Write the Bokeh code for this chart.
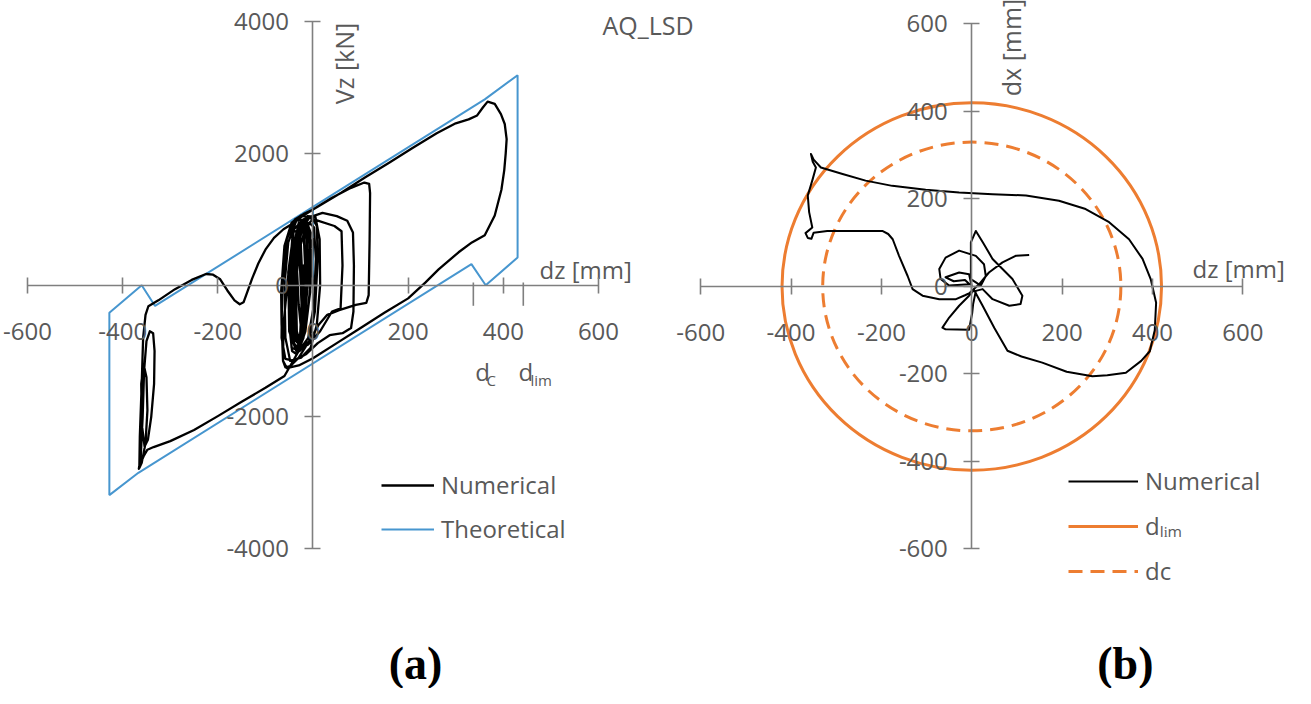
import math
from bokeh.plotting import figure
from bokeh.models import Legend, LegendItem, Range1d, LinearAxis
from bokeh.core.properties import value
from bokeh.embed import file_html
from bokeh.resources import INLINE

# ---------------- data: panel (a) ----------------
ticks_a_x = [-600, -400, -200, 0, 200, 400, 600]
ticks_a_y = [-4000, -2000, 0, 2000, 4000]
d_c_a = 337
d_lim_a = 442

theo_dz = [0, 0, 361, 430, 430, 363, 333, -367, -428, -428, -360, -332, 0]
theo_vz = [0, 1189, 2824, 3190, 420, 0, 320, -2851, -3190, -420, 0, -315, 1189]

num_a_dz = [
    # centre loops
    0, -5, -12, -8, 2, 6, 2, -10, -25, -35, -38, -30, -15, 0, 8, 10, 4, -8, -28, -45,
    -50, -45, -32, -12, 5, 14, 15, 8, -5, -25, -48, -58, -60, -52, -35, -15,
    -5, -8, -18, -30, -40, -42, -35, -22, -12, -15, -22, -32, -38, -36, -28, -18, -10, -14,
    -24, -34, -44, -48, -42, -30, -16, -6, -6, -16, -30,
    # lower branch to the left
    -60, -100, -150, -200, -250, -300, -335, -348, -356, -363, -366,
    # left thin loops
    -362, -358, -355, -350, -343, -336, -333, -334, -340, -347, -354, -360, -361, -356, -350, -348,
    -352, -360, -365, -364, -360, -357, -352, -346,
    # upper-left path
    -325, -290, -255, -225, -210, -195, -180, -165, -154, -146, -138, -128, -115, -100, -82, -62, -40, -20,
    # big right loop
    0, 60, 110, 160, 210, 260, 300, 327, 345, 357, 367, 382, 395, 403, 407, 405, 402, 396, 382, 361,
    334, 306, 264, 236,
    # lower branch back
    200, 150, 100, 50, 0, -30, -55, -63,
    # centre again
    -66, -67, -60, -45, -25, 10, 45, 60, 62, 58, 40, 15, -10, -35, -50, -52, -40, -20,
    20, 50, 72, 84, 86, 85, 80, 62, 35, 10, -15, -40, -58, -66, -65, -55, -38, -20,
    0, 40, 80, 108, 118, 120, 119, 117, 112, 90, 55, 30, 12, -8, -30, -48, -58, -63, -62, -50, -30, -10,
    # dense small cycles at the end
    -20, -28, -36, -34, -26, -18, -16, -20, -30, -40, -44, -40, -30, -20, -22, -26, -32, -38, -40, -36,
    -28, -24, -28, -34, -42, -48, -50, -44, -34, -20, -12, -14, -22, -30, -34, -30, -26, -20, -18,
    0, -5, -15, -25, -22, -10,
]
num_a_vz = [
    0, 500, 850, 950, 880, 400, -300, -800, -950, -800, -200, 500, 900, 1000, 900, 400, -400, -850, -1000, -950,
    -500, 300, 850, 1050, 1040, 700, 0, -600, -950, -1100, -1150, -800, 0, 650, 980, 1000,
    800, 200, -500, -850, -700, 0, 700, 930, 800, 100, -600, -880, -500, 300, 800, 900, 500, -200,
    -750, -950, -850, -200, 600, 920, 980, 700, -100, -700, -1000,
    -1380, -1560, -1770, -1990, -2200, -2370, -2460, -2500, -2600, -2720, -2790,
    -2600, -2000, -1300, -850, -700, -730, -1000, -1500, -2000, -2350, -2450, -2100, -1500, -1200, -1400, -1900,
    -2400, -2700, -2780, -2300, -1500, -800, -450, -320,
    -230, -60, 80, 170, 160, 90, -80, -230, -290, -260, -100, 100, 330, 540, 720, 850, 950, 1060,
    1150, 1410, 1640, 1860, 2090, 2310, 2460, 2520, 2580, 2700, 2790, 2755, 2600, 2450, 2220, 2000, 1750, 1450, 1060, 760,
    650, 500, 240, 40,
    -200, -420, -650, -880, -1110, -1220, -1260, -1150,
    -600, -100, 600, 950, 1060, 980, 900, 820, 300, -350, -400, -700, -900, -1000, -700, 200, 850, 1000,
    1100, 1050, 980, 800, 300, -400, -650, -730, -760, -880, -1050, -1150, -1120, -800, 0, 700, 1000, 1080,
    1150, 1330, 1480, 1560, 1540, 1400, 700, -150, -270, -300, -380, -450, -600, -850, -1100, -1230, -1250, -1150, -600, 300, 850, 1000,
    900, 700, 0, -700, -900, -600, 200, 850, 950, 600, -300, -880, -980, -700, 0, 700, 900, 500, -400, -850,
    -900, -300, 400, 800, 850, 300, -600, -1000, -1050, -800, 0, 750, 980, 860, 300, -300, -600, -300, 300,
    700, 0, -600, -500, 300, 0,
]

# ---------------- data: panel (b) ----------------
ticks_b = [-600, -400, -200, 0, 200, 400, 600]
r_lim = 420
r_c = 330

num_b_dz = [
    0, -6, -28, -58, -40, -15, -5,
    -50, -69, -72, -58, -28, 9, 27, 31, 20,
    -2, -2, 9, 25, 46, 90, 112, 108, 83, 46, 24, 9,
    3, 1, -6, -58, -65, -50, -28, -6, 5,
    24, 50, 79, 110, 156, 210, 267, 300, 341, 375, 394, 405, 408, 396, 378, 348, 304, 252, 193, 120, 46,
    -28, -102, -176, -235, -286, -334, -350, -356, -352, -345, -352, -363, -360, -353, -368, -363, -355, -350,
    -320, -250, -198, -185, -175, -161, -142, -131, -109, -72, -35, -15, -5, 16, 38, 68, 97, 127,
]
num_b_dx = [
    0, 28, 32, 21, 12, 15, 5,
    2, 17, 40, 66, 82, 70, 51, 24, 2,
    17, 101, 127, 100, 63, 17, -21, -40, -44, -29, -6, -10,
    -40, -60, -99, -98, -94, -71, -44, -21, -8,
    -44, -95, -147, -160, -174, -195, -205, -203, -197, -170, -148, -100, -37, 17, 63, 108, 147, 177, 196, 208, 211,
    215, 221, 230, 242, 257, 272, 290, 303, 285, 272, 246, 208, 170, 135, 122, 111, 109, 123,
    127, 127, 127, 120, 108, 70, 24, -6, -21, -29, -29, -20, -15, 5, 32, 55, 70, 72,
]

# ---------------- styles ----------------
GRAY_AXIS = "#7f7f7f"
GRAY_TXT = "#595959"
BLUE = "#4796CF"
ORANGE = "#ED7D31"
FONT = "Open Sans"
FS = "24px"
NAN = float("nan")


def style_axis(ax, tks, bnds, standoff):
    ax.fixed_location = 0
    ax.ticker = tks
    ax.bounds = bnds
    ax.major_label_overrides = {t: str(t) for t in tks}
    ax.axis_line_color = GRAY_AXIS
    ax.axis_line_width = 1.6
    ax.major_tick_line_color = GRAY_AXIS
    ax.major_tick_line_width = 1.6
    ax.major_tick_in = 8
    ax.major_tick_out = 8
    ax.minor_tick_line_color = None
    ax.major_label_text_font = FONT
    ax.major_label_text_font_size = FS
    ax.major_label_text_color = GRAY_TXT
    ax.major_label_standoff = standoff


# one canvas; panel (a) uses the default ranges, panel (b) the extra ranges
p = figure(width=1295, height=688,
           x_range=Range1d(-656.8, 2065.0), y_range=Range1d(-6129.2, 4326.7),
           output_backend="svg", toolbar_location=None, min_border=0,
           background_fill_color="white", border_fill_color="white")
p.extra_x_ranges = {"xb": Range1d(-2149.8, 716.5)}
p.extra_y_ranges = {"yb": Range1d(-918.9, 653.7)}
p.outline_line_color = None
p.grid.visible = False

style_axis(p.xaxis[0], ticks_a_x, (-600, 600), 30)
style_axis(p.yaxis[0], ticks_a_y, (-4000, 4000), 16)

axb_x = LinearAxis(x_range_name="xb", y_range_name="yb")
axb_y = LinearAxis(x_range_name="xb", y_range_name="yb")
style_axis(axb_x, ticks_b, (-600, 600), 30)
style_axis(axb_y, ticks_b, (-600, 600), 16)
p.add_layout(axb_x, "below")
p.add_layout(axb_y, "left")

B = dict(x_range_name="xb", y_range_name="yb")


def txt(x, y, s, size=FS, align="left", baseline="middle", angle=0.0,
        font=FONT, color=GRAY_TXT, style="normal", **kw):
    p.text(x=[x], y=[y], text=[s], text_font=value(font), text_font_size=value(size),
           text_color=color, text_align=align, text_baseline=baseline, angle=angle,
           text_font_style=style, **kw)


# ---------------- panel (a) ----------------
r_theo = p.line(theo_dz, theo_vz, line_color=BLUE, line_width=2)
r_num_a = p.line(num_a_dz, num_a_vz, line_color="black", line_width=2.3, line_join="round")
p.segment(x0=[d_c_a, d_lim_a], y0=[41, 41], x1=[d_c_a, d_lim_a], y1=[-313, -313],
          line_color=GRAY_AXIS, line_width=1.6)

txt(66.2, 3369, "Vz [kN]", align="center", angle=math.pi / 2, size="25px")
txt(608.4, 3947, "AQ_LSD", size="25px")
txt(476.0, 238.0, "dz [mm]")
txt(341.0, -1311, "d")
txt(364.6, -1446, "C", size="15px")
txt(431.9, -1311, "d")
txt(457.1, -1446, "lim", size="15px")
txt(215.4, -5750, "(a)", size="46px", align="center", font="Liberation Serif",
    color="black", style="bold")

leg_a = Legend(items=[LegendItem(label="Numerical", renderers=[r_num_a]),
                      LegendItem(label="Theoretical", renderers=[r_theo])],
               location=(381, 143), orientation="vertical",
               glyph_width=53, glyph_height=32, label_height=32, spacing=11,
               label_standoff=7, padding=0, margin=0,
               border_line_color=None, background_fill_alpha=0,
               label_text_font=FONT, label_text_font_size=FS, label_text_color=GRAY_TXT)
p.add_layout(leg_a)

# ---------------- panel (b) ----------------
p.ellipse(x=[0], y=[0], width=[2 * r_lim], height=[2 * r_lim], fill_color=None,
          line_color=ORANGE, line_width=3, **B)
p.ellipse(x=[0], y=[0], width=[2 * r_c], height=[2 * r_c], fill_color=None,
          line_color=ORANGE, line_width=3, line_dash="14 8", **B)
r_num_b = p.line(num_b_dz, num_b_dx, line_color="black", line_width=2, line_join="round", **B)
r_lim_leg = p.line([NAN], [NAN], line_color=ORANGE, line_width=3, **B)
r_c_leg = p.line([NAN], [NAN], line_color=ORANGE, line_width=3, line_dash="14 8", **B)

txt(85.7, 546.3, "dx [mm]", align="center", angle=math.pi / 2, size="25px", **B)
txt(488.5, 41.2, "dz [mm]", **B)
txt(340.0, -862.0, "(b)", size="46px", align="center", font="Liberation Serif",
    color="black", style="bold", **B)

leg_b = Legend(items=[LegendItem(label="Numerical", renderers=[r_num_b]),
                      LegendItem(label="d\u2097\u1d62\u2098", renderers=[r_lim_leg]),
                      LegendItem(label="dc", renderers=[r_c_leg])],
               location=(1068, 101), orientation="vertical",
               glyph_width=70, glyph_height=32, label_height=32, spacing=12,
               label_standoff=7, padding=0, margin=0,
               border_line_color=None, background_fill_alpha=0,
               label_text_font=FONT, label_text_font_size=FS, label_text_color=GRAY_TXT)
p.add_layout(leg_b)

open("out.html", "w").write(file_html(p, INLINE))
